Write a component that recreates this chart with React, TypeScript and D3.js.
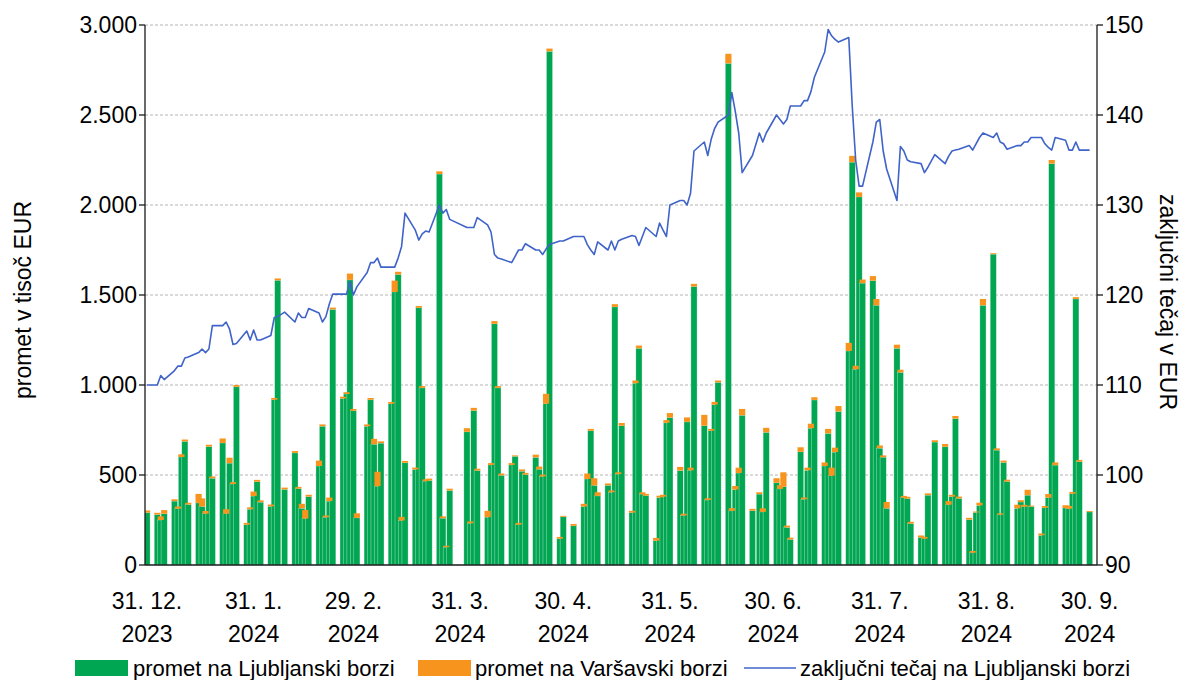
import React, { useRef, useEffect } from "react";
import * as d3 from "d3";

// trading days (the first entry is the year-end reference point)
const dates = [
  "2023-12-31",
  "2024-01-03", "2024-01-04", "2024-01-05", "2024-01-08", "2024-01-09", "2024-01-10", "2024-01-11", "2024-01-12", "2024-01-15", "2024-01-16", "2024-01-17", "2024-01-18", "2024-01-19", "2024-01-22", "2024-01-23", "2024-01-24", "2024-01-25", "2024-01-26", "2024-01-29", "2024-01-30", "2024-01-31",
  "2024-02-01", "2024-02-02", "2024-02-05", "2024-02-06", "2024-02-07", "2024-02-09", "2024-02-12", "2024-02-13", "2024-02-14", "2024-02-15", "2024-02-16", "2024-02-19", "2024-02-20", "2024-02-21", "2024-02-22", "2024-02-23", "2024-02-26", "2024-02-27", "2024-02-28", "2024-02-29",
  "2024-03-01", "2024-03-04", "2024-03-05", "2024-03-06", "2024-03-07", "2024-03-08", "2024-03-11", "2024-03-12", "2024-03-13", "2024-03-14", "2024-03-15", "2024-03-18", "2024-03-19", "2024-03-20", "2024-03-21", "2024-03-22", "2024-03-25", "2024-03-26", "2024-03-27", "2024-03-28",
  "2024-04-02", "2024-04-03", "2024-04-04", "2024-04-05", "2024-04-08", "2024-04-09", "2024-04-10", "2024-04-11", "2024-04-12", "2024-04-15", "2024-04-16", "2024-04-17", "2024-04-18", "2024-04-19", "2024-04-22", "2024-04-23", "2024-04-24", "2024-04-25", "2024-04-26", "2024-04-29", "2024-04-30",
  "2024-05-03", "2024-05-06", "2024-05-07", "2024-05-08", "2024-05-09", "2024-05-10", "2024-05-13", "2024-05-14", "2024-05-15", "2024-05-16", "2024-05-17", "2024-05-20", "2024-05-21", "2024-05-22", "2024-05-23", "2024-05-24", "2024-05-27", "2024-05-28", "2024-05-29", "2024-05-30", "2024-05-31",
  "2024-06-03", "2024-06-04", "2024-06-05", "2024-06-06", "2024-06-07", "2024-06-10", "2024-06-11", "2024-06-12", "2024-06-13", "2024-06-14", "2024-06-17", "2024-06-18", "2024-06-19", "2024-06-20", "2024-06-21", "2024-06-24", "2024-06-26", "2024-06-27", "2024-06-28",
  "2024-07-01", "2024-07-02", "2024-07-03", "2024-07-04", "2024-07-05", "2024-07-08", "2024-07-09", "2024-07-10", "2024-07-11", "2024-07-12", "2024-07-15", "2024-07-16", "2024-07-17", "2024-07-18", "2024-07-19", "2024-07-22", "2024-07-23", "2024-07-24", "2024-07-25", "2024-07-26", "2024-07-29", "2024-07-30", "2024-07-31",
  "2024-08-01", "2024-08-02", "2024-08-05", "2024-08-06", "2024-08-07", "2024-08-08", "2024-08-09", "2024-08-12", "2024-08-13", "2024-08-14", "2024-08-16", "2024-08-19", "2024-08-20", "2024-08-21", "2024-08-22", "2024-08-23", "2024-08-26", "2024-08-27", "2024-08-28", "2024-08-29", "2024-08-30",
  "2024-09-02", "2024-09-03", "2024-09-04", "2024-09-05", "2024-09-06", "2024-09-09", "2024-09-10", "2024-09-11", "2024-09-12", "2024-09-13", "2024-09-16", "2024-09-17", "2024-09-18", "2024-09-19", "2024-09-20", "2024-09-23", "2024-09-24", "2024-09-25", "2024-09-26", "2024-09-27", "2024-09-30",
];

// promet na Ljubljanski borzi (tisoč EUR)
const ljubljana = [
  291,
  280, 250, 285, 355, 313, 600, 687, 336, 345, 325, 285, 658, 482, 678, 285, 566, 450, 990, 224, 310, 383,
  463, 349, 326, 918, 1582, 420, 623, 424, 315, 258, 380, 550, 771, 265, 355, 1420, 925, 950, 1584, 857,
  262, 771, 918, 671, 438, 677, 896, 1517, 1614, 247, 568, 531, 1429, 984, 466, 470, 2172, 260, 99, 414,
  740, 232, 858, 525, 266, 556, 1340, 984, 498, 556, 604, 224, 521, 502, 598, 532, 492, 896, 2854, 146, 268,
  218, 325, 478, 746, 442, 384, 443, 404, 1434, 505, 774, 291, 1010, 1204, 394, 385, 135, 375, 380, 790, 819,
  525, 275, 795, 526, 1547, 774, 361, 746, 891, 1015, 2787, 301, 419, 511, 832, 302, 394, 295, 737,
  457, 423, 435, 209, 142, 629, 365, 526, 760, 917, 550, 731, 496, 627, 853, 1189, 2238, 1087, 2045, 1566, 1580, 1443, 649,
  599, 315, 1204, 1070, 374, 369, 230, 154, 146, 388, 683, 657, 335, 380, 813, 370, 252, 68, 292, 331, 1443,
  1727, 638, 279, 570, 464, 315, 350, 324, 388, 325, 165, 318, 374, 2230, 555, 317, 313, 396, 1478, 574, 295,
];

// promet na Varšavski borzi (tisoč EUR)
const warsaw = [
  12,
  10, 20, 20, 10, 12, 15, 10, 10, 50, 45, 15, 10, 10, 25, 25, 30, 10, 10, 10, 10, 25,
  10, 10, 10, 10, 10, 10, 10, 10, 25, 48, 10, 30, 10, 10, 20, 10, 10, 10, 35, 10,
  25, 10, 10, 30, 80, 10, 10, 63, 15, 20, 10, 10, 10, 10, 10, 10, 15, 10, 8, 10,
  20, 10, 15, 10, 35, 10, 15, 10, 10, 10, 5, 10, 10, 10, 15, 15, 10, 55, 15, 10, 5,
  10, 15, 30, 10, 40, 20, 10, 10, 15, 10, 15, 10, 15, 15, 10, 10, 15, 10, 10, 15, 25,
  20, 10, 25, 15, 15, 60, 10, 10, 15, 10, 53, 15, 20, 30, 35, 10, 10, 20, 25,
  25, 20, 80, 10, 10, 25, 10, 15, 25, 15, 20, 25, 45, 25, 30, 45, 35, 20, 25, 20, 25, 35, 15,
  10, 35, 20, 15, 10, 10, 10, 10, 10, 10, 10, 15, 20, 10, 15, 10, 10, 10, 5, 15, 35,
  5, 10, 8, 10, 10, 20, 10, 10, 30, 5, 10, 10, 20, 20, 15, 15, 15, 10, 10, 10, 5,
];

// zaključni tečaj na Ljubljanski borzi (EUR)
const closePrice = [
  110,
  110, 111.05, 110.6, 111.6, 112.1, 112.1, 113, 113.1, 113.6, 114, 113.6, 114, 116.6, 116.6, 117, 116.2, 114.5, 114.6, 116, 115, 116.1,
  115, 115, 115.5, 117.5, 117.6, 118.1, 117, 118, 117.5, 117.5, 118.5, 118, 117, 117.6, 119, 120.1, 120.1, 120.1, 121.5, 120,
  120.9, 122.5, 123.6, 123.6, 124.1, 123.1, 123.1, 123.1, 124.1, 125.4, 129.1, 127.2, 126.1, 126.8, 127.1, 127, 130, 129.1, 129.5, 128.4,
  127.5, 127.5, 127.5, 128.6, 127.8, 127, 124.5, 124.1, 124, 123.6, 124.3, 125, 125, 125.7, 125, 125, 124.5, 125.1, 125.6, 126, 126,
  126.5, 126.5, 125.6, 125, 124.5, 125.9, 125, 126, 125, 126, 126.2, 126.6, 126.5, 125.5, 126.5, 127.5, 126.5, 128, 127.2, 126.5, 130,
  130.5, 130.5, 130, 131.3, 136, 137, 135.5, 137.3, 138.5, 139.2, 140, 142.5, 140.4, 138, 133.6, 135.5, 138, 137, 138,
  140, 139.5, 139, 139.5, 141, 141, 141.6, 141.6, 142.6, 144.2, 147, 149.5, 148.8, 148.4, 148.1, 148.6, 141, 135, 132.1, 132.1, 137, 139.2, 139.5,
  136, 134, 130.5, 136.5, 136, 135, 134.8, 134.6, 133.6, 134.2, 135.6, 134.6, 135.4, 136, 136.1, 136.2, 136.6, 136.1, 136.8, 137.5, 138,
  137.5, 138, 137, 136.8, 136.2, 136.6, 136.6, 137, 137, 137.5, 137.5, 136.8, 136.4, 136.1, 137.5, 137.2, 136.1, 136.1, 137, 136.1, 136.1,
];

const leftTicks = [0, 500, 1000, 1500, 2000, 2500, 3000];
const rightTicks = [90, 100, 110, 120, 130, 140, 150];
const xTickDates = ["2023-12-31", "2024-01-31", "2024-02-29", "2024-03-31", "2024-04-30", "2024-05-31", "2024-06-30", "2024-07-31", "2024-08-31", "2024-09-30"];
const xTickLabels = [
  ["31. 12.", "2023"], ["31. 1.", "2024"], ["29. 2.", "2024"], ["31. 3.", "2024"], ["30. 4.", "2024"],
  ["31. 5.", "2024"], ["30. 6.", "2024"], ["31. 7.", "2024"], ["31. 8.", "2024"], ["30. 9.", "2024"],
];
const seriesNames = ["promet na Ljubljanski borzi", "promet na Varšavski borzi", "zaključni tečaj na Ljubljanski borzi"];

const GREEN = "#00a651";
const ORANGE = "#f7941d";
const BLUE = "#3f63c8";
const FONT = "'Liberation Sans', Arial, sans-serif";

export default function App() {
  const svgRef = useRef<SVGSVGElement>(null);

  useEffect(() => {
    const svg = d3.select(svgRef.current);
    svg.selectAll("*").remove();

    const left = 145, right = 1097, top = 25, bottom = 565;
    const parse = d3.utcParse("%Y-%m-%d");
    const days = dates.map((d) => parse(d) as Date);

    const x = d3.scaleUtc()
      .domain([parse("2023-12-31") as Date, parse("2024-09-30") as Date])
      .range([147, 1089.6]);
    const yL = d3.scaleLinear().domain([0, 3000]).range([bottom, top]);
    const yR = d3.scaleLinear().domain([90, 150]).range([bottom, top]);

    const oneDay = x(d3.utcDay.offset(days[0], 1)) - x(days[0]);
    const barW = oneDay * 1.8;

    svg.append("defs").append("clipPath").attr("id", "plot-clip")
      .append("rect").attr("x", left).attr("y", 0).attr("width", right - left).attr("height", bottom);

    // gridlines
    svg.append("g").selectAll("line")
      .data(leftTicks.filter((t) => t > 0))
      .join("line")
      .attr("x1", left).attr("x2", right)
      .attr("y1", (d) => yL(d)).attr("y2", (d) => yL(d))
      .attr("stroke", "#b4b4b4").attr("stroke-width", 1).attr("stroke-dasharray", "3,2");

    const plot = svg.append("g").attr("clip-path", "url(#plot-clip)");

    // green bars first, then the Warsaw part on top (Excel draws series in order)
    plot.append("g").selectAll("rect")
      .data(days)
      .join("rect")
      .attr("x", (d) => x(d) - barW / 2)
      .attr("width", barW)
      .attr("y", (d, i) => yL(ljubljana[i]))
      .attr("height", (d, i) => yL(0) - yL(ljubljana[i]))
      .attr("fill", GREEN)
      .attr("stroke", "rgba(255,255,255,0.55)")
      .attr("stroke-width", 0.6);

    plot.append("g").selectAll("rect")
      .data(days)
      .join("rect")
      .attr("x", (d) => x(d) - barW / 2)
      .attr("width", barW)
      .attr("y", (d, i) => yL(ljubljana[i] + warsaw[i]))
      .attr("height", (d, i) => yL(ljubljana[i]) - yL(ljubljana[i] + warsaw[i]))
      .attr("fill", ORANGE);

    // price line
    const line = d3.line<Date>()
      .x((d) => x(d))
      .y((d, i) => yR(closePrice[i]));
    svg.append("path")
      .attr("d", line(days))
      .attr("fill", "none")
      .attr("stroke", BLUE)
      .attr("stroke-width", 1.6)
      .attr("stroke-linejoin", "round");

    // axes lines
    const axes = svg.append("g").attr("stroke", "#1a1a1a").attr("stroke-width", 1.3);
    axes.append("line").attr("x1", left).attr("x2", left).attr("y1", top).attr("y2", bottom);
    axes.append("line").attr("x1", right).attr("x2", right).attr("y1", top).attr("y2", bottom);
    axes.append("line").attr("x1", left).attr("x2", right).attr("y1", bottom).attr("y2", bottom);

    axes.selectAll(".tl").data(leftTicks).join("line")
      .attr("x1", left - 6).attr("x2", left).attr("y1", (d) => yL(d)).attr("y2", (d) => yL(d));
    axes.selectAll(".tr").data(rightTicks).join("line")
      .attr("x1", right).attr("x2", right + 6).attr("y1", (d) => yR(d)).attr("y2", (d) => yR(d));

    const text = svg.append("g").attr("font-family", FONT).attr("fill", "#000");

    text.selectAll(".ll").data(leftTicks).join("text")
      .attr("x", 137).attr("y", (d) => yL(d)).attr("dy", "0.36em")
      .attr("text-anchor", "end").attr("font-size", 23)
      .text((d) => d3.format(",")(d).replace(/,/g, "."));

    text.selectAll(".rl").data(rightTicks).join("text")
      .attr("x", 1105).attr("y", (d) => yR(d)).attr("dy", "0.36em")
      .attr("text-anchor", "start").attr("font-size", 23)
      .text((d) => d);

    const xl = text.selectAll(".xl").data(xTickDates).join("text")
      .attr("text-anchor", "middle").attr("font-size", 23)
      .attr("transform", (d) => `translate(${x(parse(d) as Date)},0)`);
    xl.append("tspan").attr("x", 0).attr("y", 609).text((d, i) => xTickLabels[i][0]);
    xl.append("tspan").attr("x", 0).attr("y", 642).text((d, i) => xTickLabels[i][1]);

    text.append("text")
      .attr("transform", "translate(31,300) rotate(-90)")
      .attr("text-anchor", "middle").attr("font-size", 23)
      .text("promet v tisoč EUR");
    text.append("text")
      .attr("transform", "translate(1160,302) rotate(90)")
      .attr("text-anchor", "middle").attr("font-size", 23)
      .text("zaključni tečaj v EUR");

    // legend
    const lg = svg.append("g").attr("font-family", FONT).attr("font-size", 22);
    lg.append("rect").attr("x", 75).attr("y", 660).attr("width", 53).attr("height", 16).attr("fill", GREEN);
    lg.append("text").attr("x", 133).attr("y", 676).text(seriesNames[0]);
    lg.append("rect").attr("x", 418).attr("y", 660).attr("width", 53).attr("height", 16).attr("fill", ORANGE);
    lg.append("text").attr("x", 475).attr("y", 676).text(seriesNames[1]);
    lg.append("line").attr("x1", 744).attr("x2", 796).attr("y1", 668).attr("y2", 668)
      .attr("stroke", BLUE).attr("stroke-width", 1.6);
    lg.append("text").attr("x", 800).attr("y", 676).text(seriesNames[2]);
  }, []);

  return (
    <svg
      ref={svgRef}
      width={1190}
      height={680}
      style={{ position: "absolute", left: 0, top: 0, background: "#fff" }}
    />
  );
}
